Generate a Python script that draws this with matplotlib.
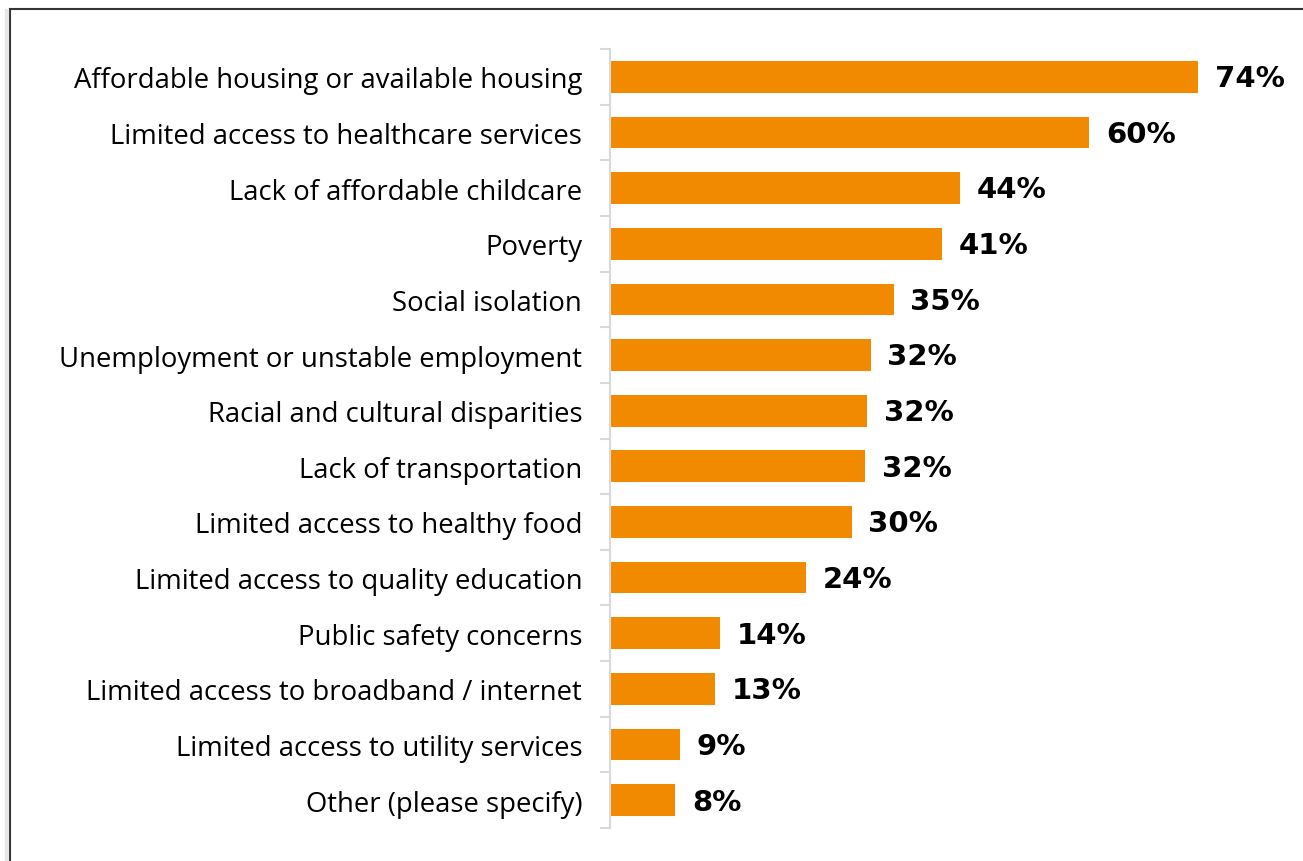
import matplotlib
matplotlib.use("Agg")
import matplotlib.pyplot as plt
from matplotlib.lines import Line2D
import numpy as np

categories = [
    "Affordable housing or available housing",
    "Limited access to healthcare services",
    "Lack of affordable childcare",
    "Poverty",
    "Social isolation",
    "Unemployment or unstable employment",
    "Racial and cultural disparities",
    "Lack of transportation",
    "Limited access to healthy food",
    "Limited access to quality education",
    "Public safety concerns",
    "Limited access to broadband / internet",
    "Limited access to utility services",
    "Other (please specify)",
]
values = [74.0, 60.3, 44.1, 41.8, 35.7, 32.8, 32.4, 32.1, 30.4, 24.7, 13.9, 13.2, 8.8, 8.2]
value_labels = ["74%", "60%", "44%", "41%", "35%", "32%", "32%", "32%", "30%", "24%", "14%", "13%", "9%", "8%"]

W, H = 1303, 862
fig = plt.figure(figsize=(W/100, H/100), dpi=100)
fig.patch.set_facecolor("white")

# axes placement in pixels
x0, x1 = 610, 1300
y_top, y_bot = 50, 829
ax = fig.add_axes([x0/W, 1 - y_bot/H, (x1-x0)/W, (y_bot-y_top)/H])
px_per = (1198 - 610) / 74.0
ax.set_xlim(0, (x1 - x0) / px_per)
n = len(categories)
ax.set_ylim(n - 0.5, -0.5)

y = np.arange(n)
ax.barh(y, values, height=0.57, color="#F28A00", edgecolor="none")

for yi, v, lab in zip(y, values, value_labels):
    ax.annotate(lab, (v, yi), xytext=(12, -1), textcoords="offset points",
                ha="left", va="center", fontsize=21, fontweight="bold",
                family="DejaVu Sans", color="black")

for s in ["top", "right", "bottom"]:
    ax.spines[s].set_visible(False)
ax.spines["left"].set_color("#d9d9d9")
ax.spines["left"].set_linewidth(1.5)
ax.set_xticks([])

ax.set_yticks(np.arange(n + 1) - 0.5)
ax.set_yticklabels([])
ax.tick_params(axis="y", which="major", length=7, width=1.5, color="#d9d9d9", direction="out")
ax.set_yticks(y, minor=True)
ax.set_yticklabels(categories, minor=True, fontsize=19.8, family="Open Sans", color="black")
ax.tick_params(axis="y", which="minor", length=0, pad=20)

# frame lines
fig.add_artist(Line2D([10/W, 10/W], [0, 1 - 10/H], transform=fig.transFigure, color="#333333", lw=1.5))
fig.add_artist(Line2D([10/W, 1], [1 - 10/H, 1 - 10/H], transform=fig.transFigure, color="#333333", lw=1.5))
# faint shadow
fig.add_artist(Line2D([7/W, 7/W], [0, 1 - 12/H], transform=fig.transFigure, color="#e6e6e6", lw=3))

fig.savefig("out.png", dpi=100)
